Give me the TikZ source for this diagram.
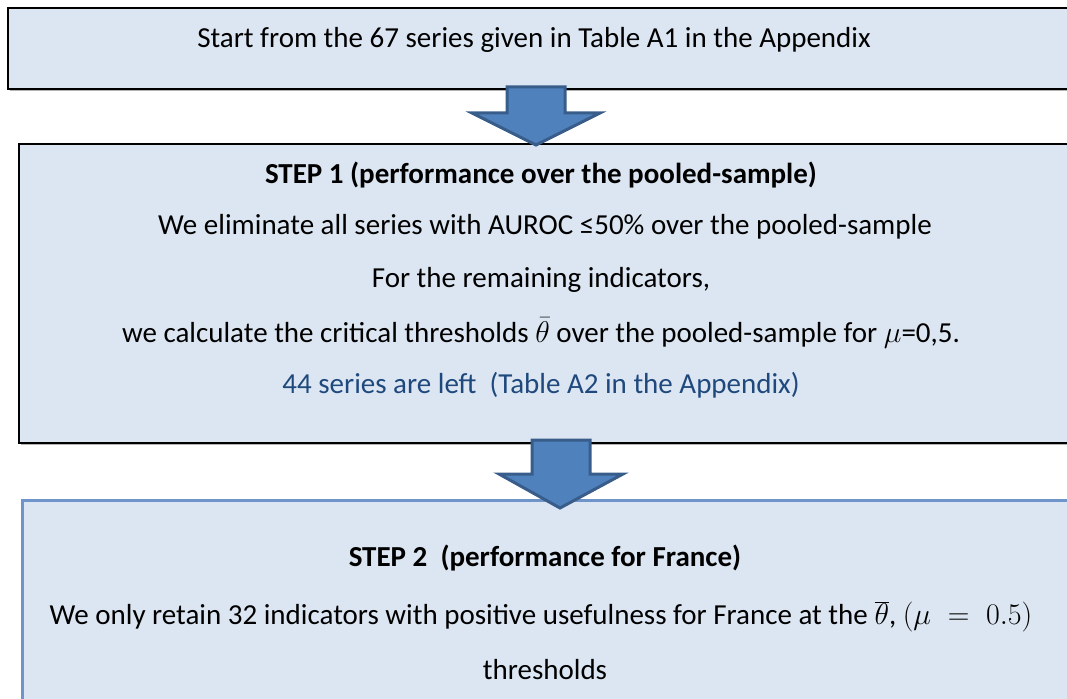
\documentclass[tikz,border=0pt]{standalone}
\usepackage{fix-cm}
\usepackage{fontspec}
\setmainfont{Carlito}
\usetikzlibrary{calc,shadows}
\definecolor{boxfill}{HTML}{DCE6F2}
\definecolor{arrowfill}{HTML}{4F81BD}
\definecolor{arrowdraw}{HTML}{385D8A}
\definecolor{bluetext}{HTML}{1F497D}
\definecolor{boxline}{HTML}{6E94C9}
\newcommand\bigmath[1]{{\fontsize{30}{36}\selectfont$#1$}}
\begin{document}
\begin{tikzpicture}[x=1pt,y=-1pt,
  txt/.style={font=\fontsize{29}{34}\selectfont, anchor=center, inner sep=0pt},
  bold/.style={txt, font=\fontsize{29}{34}\selectfont\bfseries},
  blackbox/.style={draw=black, line width=2pt, fill=boxfill, anchor=north west, inner sep=0pt,
     drop shadow={shadow xshift=1.5pt, shadow yshift=-2pt, fill=gray, opacity=0.6}},
  bluebox/.style={draw=boxline, line width=2.5pt, fill=boxfill, anchor=north west, inner sep=0pt},
  barrow/.style={draw=arrowdraw, line width=3pt, fill=arrowfill, line join=miter}]
\useasboundingbox (0,0) rectangle (1067,698);
\clip (0,0) rectangle (1067,698);
% boxes
\node[blackbox, minimum width=1070pt, minimum height=81pt] (start) at (7,7) {};
\node[blackbox, minimum width=1070pt, minimum height=299pt] (step1) at (18,143) {};
\node[bluebox, minimum width=1070pt, minimum height=220pt] (step2) at (21,499) {};
% texts
\node[txt] (t0) at (534,40) {Start from the 67 series given in Table A1 in the Appendix};
\node[bold] (s1a) at (541,175) {STEP 1 (performance over the pooled-sample)};
\node[txt] (s1b) at (545,227) {We eliminate all series with AUROC ≤50\% over the pooled-sample};
\node[txt] (s1c) at (541,280) {For the remaining indicators,};
\node[txt] (s1d) at (541,333) {we calculate the critical thresholds \bigmath{\bar{\theta}} over the pooled-sample for \bigmath{\mu}=0,5.};
\node[txt, text=bluetext] (s1e) at (541,385) {44 series are left\ \ (Table A2 in the Appendix)};
\node[bold] (s2a) at (545,558) {STEP 2\ \ (performance for France)};
\node[txt] (s2b) at (541,617) {We only retain 32 indicators with positive usefulness for France at the \bigmath{\overline{\theta}}, \bigmath{(\mu\;=\;0.5)}};
\node[txt] (s2c) at (545,670) {thresholds};
% block arrows
\coordinate (a1) at (536,87);
\coordinate (tip1) at (536,145);
\coordinate (a2) at (561,440);
\coordinate (tip2) at (560,508);
\draw[barrow] ($(a1)+(-29,0)$) -- ($(a1)+(29,0)$) -- ($(a1)+(29,26)$) -- ($(a1)+(64,26)$)
   -- (tip1) -- ($(a1)+(-64,26)$) -- ($(a1)+(-29,26)$) -- cycle;
\draw[barrow] ($(a2)+(-29,0)$) -- ($(a2)+(29,0)$) -- ($(a2)+(29,34)$) -- ($(a2)+(62,34)$)
   -- (tip2) -- ($(a2)+(-62,34)$) -- ($(a2)+(-29,34)$) -- cycle;
\end{tikzpicture}
\end{document}
